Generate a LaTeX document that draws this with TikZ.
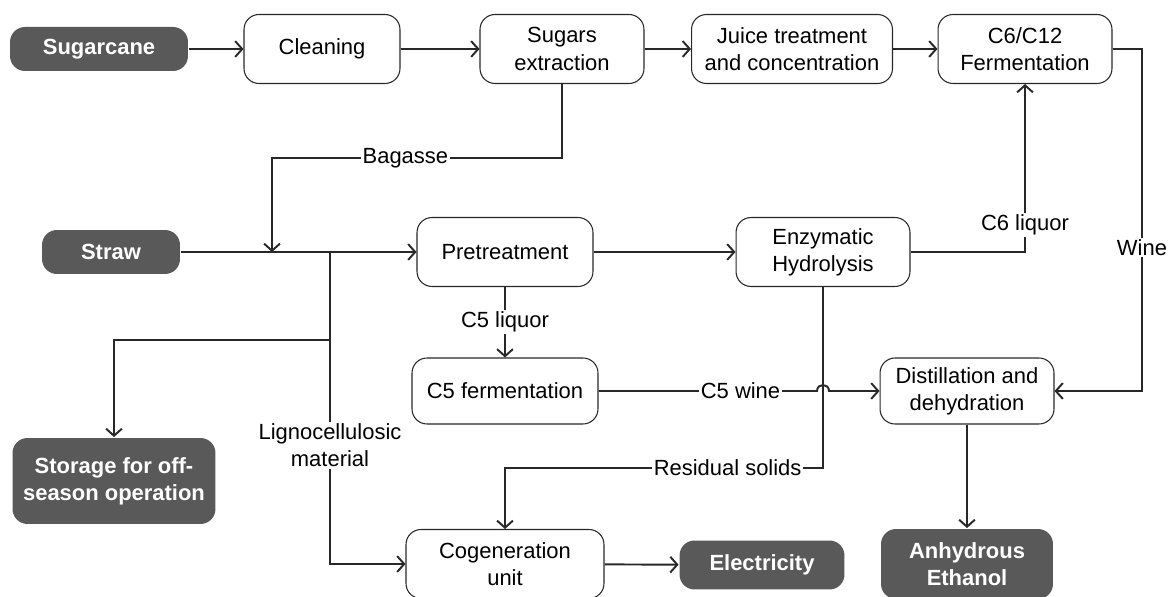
\documentclass[tikz,border=0pt]{standalone}
\usepackage{fontspec}
\setmainfont{Liberation Sans}
\usetikzlibrary{arrows.meta}

\definecolor{termgray}{RGB}{89,89,89}
\definecolor{linegray}{RGB}{40,40,40}

\tikzset{
  proc/.style={draw=linegray, line width=0.6pt, rounded corners=0.3cm, fill=white,
    align=center, inner sep=0pt, minimum height=1.38cm},
  term/.style={fill=termgray, rounded corners=0.3cm, text=white, align=center,
    inner sep=0pt, font=\fontsize{12.5}{15.5}\selectfont\bfseries},
  lbl/.style={fill=white, inner sep=1pt, align=center},
}

\begin{document}
\begin{tikzpicture}[x=0.02cm, y=-0.02cm, line width=1.1pt, draw=linegray,
    font=\fontsize{12.5}{15.5}\selectfont,
    >={Straight Barb[length=4pt,width=9pt]}]
    \useasboundingbox (0,0) rectangle (1169,597);

    % top row
    \node[term, minimum width=3.56cm, minimum height=0.88cm] (cane) at (99,49) {Sugarcane};
    \node[proc, minimum width=3.12cm] (clean) at (322,49) {Cleaning};
    \node[proc, minimum width=3.28cm] (sugar) at (562,49) {Sugars\\extraction};
    \node[proc, minimum width=4.02cm] (juice) at (792,49) {Juice treatment\\and concentration};
    \node[proc, minimum width=3.48cm] (ferm) at (1025,49) {C6/C12\\Fermentation};

    % straw line
    \node[term, minimum width=2.76cm, minimum height=0.88cm] (straw) at (111,252) {Straw};
    \node[proc, minimum width=3.52cm] (pre) at (505,252) {Pretreatment};
    \node[proc, minimum width=3.48cm] (enz) at (823,252) {Enzymatic\\Hydrolysis};

    \node[proc, minimum width=3.72cm, minimum height=1.32cm] (c5) at (505,391) {C5 fermentation};
    \node[proc, minimum width=3.48cm, minimum height=1.32cm] (dist) at (967,391) {Distillation and\\dehydration};

    % bottom
    \node[term, minimum width=4.06cm, minimum height=1.72cm] (store) at (114,481) {Storage for off-\\season operation};
    \node[proc, minimum width=3.96cm] (cogen) at (505,564) {Cogeneration\\unit};
    \node[term, minimum width=3.3cm, minimum height=0.98cm] (elec) at (762,565) {Electricity};
    \node[term, minimum width=3.44cm, minimum height=1.4cm] (eth) at (967,564) {Anhydrous\\Ethanol};

    \coordinate (bag) at (272,252);
    \coordinate (split) at (330,252);
    \coordinate (turn) at (330,340);
    \coordinate (wineturn) at (1142,49);
    \coordinate (solids) at (823,468);
    \coordinate (jumpa) at (817,391);
    \coordinate (jumpb) at (829,391);

    \draw[->] (cane) -- (clean);
    \draw[->] (clean) -- (sugar);
    \draw[->] (sugar) -- (juice);
    \draw[->] (juice) -- (ferm);
    \draw[->] (sugar.south) -- ++(0,74) -| node[lbl, pos=0.27] {Bagasse} (bag);

    \draw[->] (straw) -- (pre);
    \draw[->] (split) -- (turn) -| (store);
    \draw[->] (split) |- node[lbl, pos=0.31] {Lignocellulosic\\material} (cogen);

    \draw[->] (pre) -- (enz);
    \draw[->] (pre) -- node[lbl] {C5 liquor} (c5);
    \draw[->] (enz) -| node[lbl, pos=0.58] {C6 liquor} (ferm);
    \draw[->] (ferm) -- (wineturn) |- node[lbl, pos=0.29] {Wine} (dist);

    \draw[->] (c5) -- node[lbl, pos=0.65] {C5 wine} (jumpa)
        .. controls (817,383) and (829,383) .. (jumpb) -- (dist);
    \draw[->] (enz) -- (solids) -| node[lbl, pos=0.15] {Residual solids} (cogen);

    \draw[->] (cogen) -- (elec);
    \draw[->] (dist) -- (eth);
\end{tikzpicture}
\end{document}
